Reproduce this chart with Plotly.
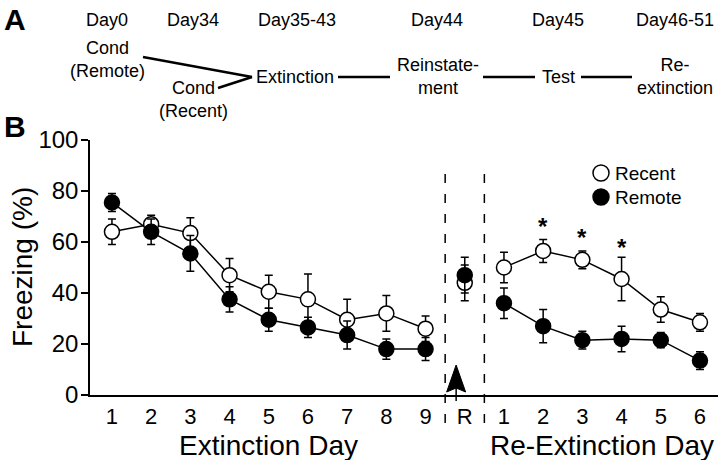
import plotly.graph_objects as go

# ---------------- data ----------------
tick_labels = ["1", "2", "3", "4", "5", "6", "7", "8", "9", "R", "1", "2", "3", "4", "5", "6"]

recent_ext = [64, 67, 63.5, 47, 40.5, 37.5, 29.5, 32, 26]
recent_ext_sem = [5, 3.5, 6, 6.5, 6.5, 10, 8, 7, 5]
recent_r = [44]
recent_r_sem = [7]
recent_re = [50, 56.5, 53, 45.5, 33.5, 28.5]
recent_re_sem = [6, 4.5, 3.5, 8.5, 5, 3.5]

remote_ext = [75.5, 64, 55.5, 37.5, 29.5, 26.5, 23.5, 18, 18]
remote_ext_sem = [3.5, 5, 7, 5, 4.5, 4, 5.5, 4, 4.5]
remote_r = [47]
remote_r_sem = [7]
remote_re = [36, 27, 21.5, 22, 21.5, 13.5]
remote_re_sem = [6, 6.5, 3.5, 5, 3, 3.5]

star_days = [12, 13, 14]
star_y = [67.5, 63.5, 59.5]

series_names = ["Recent", "Remote"]
timeline_days = ["Day0", "Day34", "Day35-43", "Day44", "Day45", "Day46-51"]

FONT = "Liberation Sans, Arial, Helvetica, sans-serif"

# ---------------- geometry helpers (layout only) ----------------
L, R_, T, B = 90, 2, 140, 65
W, H = 720, 460
PW, PH = W - L - R_, H - T - B


def px(x):
    return (x - L) / PW


def py(y):
    return (H - B - y) / PH


x_pos = list(range(1, len(tick_labels) + 1))


def line_y(ext, re):
    return ext + [None] + re


fig = go.Figure()

# connecting lines
for ext, re in [(recent_ext, recent_re), (remote_ext, remote_re)]:
    fig.add_trace(go.Scatter(
        x=x_pos, y=line_y(ext, re), mode="lines",
        line=dict(color="black", width=1.5), connectgaps=False,
        showlegend=False, hoverinfo="skip"))

fills = ["white", "black"]
# markers with error bars
for name, vals, sems, fill in [
    (series_names[0], recent_ext + recent_r + recent_re, recent_ext_sem + recent_r_sem + recent_re_sem, fills[0]),
    (series_names[1], remote_ext + remote_r + remote_re, remote_ext_sem + remote_r_sem + remote_re_sem, fills[1]),
]:
    fig.add_trace(go.Scatter(
        x=x_pos, y=vals, mode="markers", name=name,
        marker=dict(size=15, color=fill, line=dict(color="black", width=1.5)),
        error_y=dict(type="data", array=sems, visible=True, color="black", thickness=1.5, width=4),
        showlegend=False))

shapes = []
# dashed separators around R
for xv in [9.5, 10.5]:
    shapes.append(dict(type="line", xref="x", yref="paper", x0=xv, x1=xv,
                       y0=py(423), y1=py(170),
                       line=dict(color="black", width=1.5, dash="9px,11px")))
# reinstatement arrow
shapes.append(dict(type="path", xref="x", yref="paper", xsizemode="pixel", ysizemode="pixel",
                   xanchor=9.78, yanchor=0,
                   path="M0,30 L9.5,3 L0,7 L-9.5,3 Z",
                   fillcolor="black", line=dict(color="black", width=1)))
shapes.append(dict(type="line", xref="x", yref="paper", xsizemode="pixel", ysizemode="pixel",
                   xanchor=9.78, yanchor=0, x0=0, x1=0, y0=-6, y1=20,
                   line=dict(color="black", width=1.5)))

# panel A timeline connectors
for (x0, y0, x1, y1) in [(143, 57, 252, 77), (218, 88, 252, 77), (338, 77, 390, 77),
                         (483, 77, 535, 77), (581, 77, 632, 77)]:
    shapes.append(dict(type="line", xref="paper", yref="paper",
                       x0=px(x0), y0=py(y0), x1=px(x1), y1=py(y1),
                       line=dict(color="black", width=2.5)))

annotations = []


def txt(text, x, y, size=18, bold=False, **kw):
    annotations.append(dict(text=("<b>%s</b>" % text) if bold else text,
                            xref="paper", yref="paper", x=px(x), y=py(y),
                            showarrow=False, xanchor=kw.pop("xanchor", "center"),
                            yanchor=kw.pop("yanchor", "middle"),
                            font=dict(family=FONT, size=size, color="black"), **kw))


# manual legend
for i, (name, fill) in enumerate(zip(series_names, fills)):
    cy = 173 + 24 * i
    shapes.append(dict(type="circle", xref="paper", yref="paper", xsizemode="pixel", ysizemode="pixel",
                       xanchor=px(601), yanchor=py(cy), x0=-8, x1=8, y0=-8, y1=8,
                       fillcolor=fill, line=dict(color="black", width=1.5)))
    txt(name, 613, cy, size=19, xanchor="left")

txt("A", 15, 20, size=30, bold=True)
txt("B", 15, 127, size=30, bold=True)
for label, xc in zip(timeline_days, [107, 193, 297, 437, 558, 675]):
    txt(label, xc, 20)
txt("Cond<br>(Remote)", 107, 59)
txt("Cond<br>(Recent)", 193, 100)
txt("Extinction", 295, 77)
txt("Reinstate-<br>ment", 438, 76)
txt("Test", 558, 77)
txt("Re-<br>extinction", 675, 76)

# axis titles
txt("Freezing (%)", 22, 267, size=28, textangle=-90)
annotations.append(dict(text="Extinction Day", xref="x", yref="paper", x=5, y=py(445),
                        showarrow=False, xanchor="center", yanchor="middle",
                        font=dict(family=FONT, size=28, color="black")))
annotations.append(dict(text="Re-Extinction Day", xref="x", yref="paper", x=13.5, y=py(445),
                        showarrow=False, xanchor="center", yanchor="middle",
                        font=dict(family=FONT, size=28, color="black")))

# significance stars
for xs, ys in zip(star_days, star_y):
    annotations.append(dict(text="<b>*</b>", xref="x", yref="y", x=xs, y=ys, yshift=-4,
                            showarrow=False, xanchor="center", yanchor="middle",
                            font=dict(family=FONT, size=24, color="black")))

fig.update_layout(
    width=W, height=H,
    margin=dict(l=L, r=R_, t=T, b=B, pad=0),
    paper_bgcolor="white", plot_bgcolor="white",
    font=dict(family=FONT, color="black"),
    shapes=shapes, annotations=annotations,
    showlegend=False,
    xaxis=dict(range=[0.44, 16.46], tickmode="array", tickvals=x_pos, ticktext=tick_labels,
               showgrid=False, zeroline=False, showline=True, linecolor="black", linewidth=1.5,
               ticks="", tickfont=dict(family=FONT, size=22, color="black"),
               ticklabelstandoff=1),
    yaxis=dict(range=[0, 100], tickvals=[0, 20, 40, 60, 80, 100],
               showgrid=False, zeroline=False, showline=True, linecolor="black", linewidth=1.5,
               ticks="outside", ticklen=7, tickwidth=1.5, tickcolor="black",
               tickfont=dict(family=FONT, size=24, color="black"),
               ticklabelstandoff=-2),
)

fig.write_html("out.html", config={"displayModeBar": False},
               post_script="document.body.style.margin='0';document.body.style.overflow='hidden';")
